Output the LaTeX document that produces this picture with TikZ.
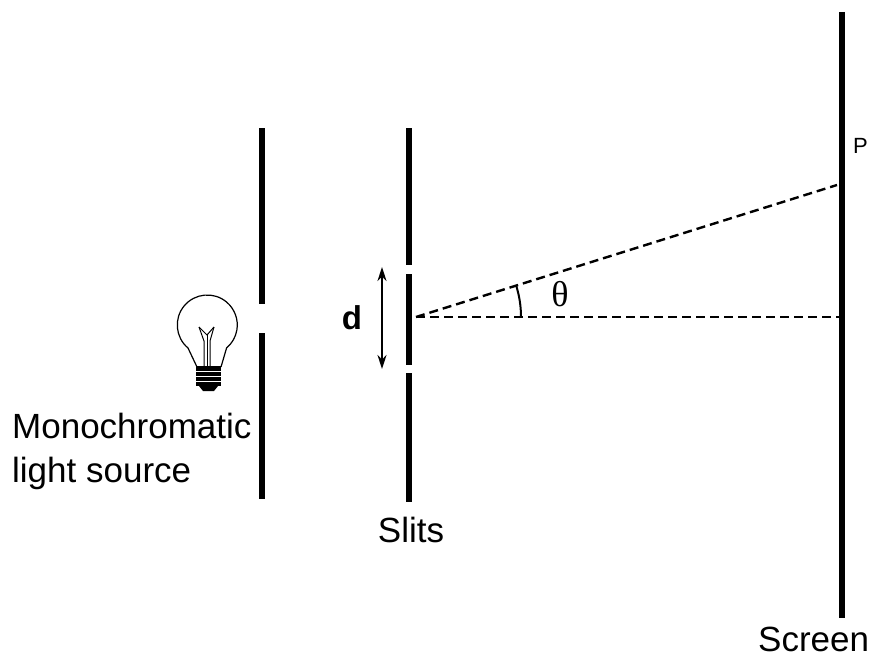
\documentclass[tikz,border=0pt]{standalone}
\usepackage{fontspec}
\setmainfont{Liberation Sans}
\newfontfamily\greekfont{Liberation Serif}
\usetikzlibrary{arrows.meta}

\begin{document}
\begin{tikzpicture}[x=1pt,y=-1pt,
	barrier/.style={line width=6pt},
	ray/.style={dash pattern=on 9pt off 5pt,line width=2.4pt},
	lbl/.style={inner sep=0pt,font=\fontsize{35}{44}\selectfont}]
	\useasboundingbox (0,0) rectangle (869,661);
	% barrier in front of the bulb
	\draw[barrier] (262,128) -- (262,304);
	\draw[barrier] (262,333) -- (262,499);
	% slits
	\draw[barrier] (409,128) -- (409,265);
	\draw[barrier] (409,274) -- (409,365);
	\draw[barrier] (409,373) -- (409,502);
	% screen
	\draw[line width=6.5pt] (842,12) -- (842,618);
	% bulb
	\draw[line width=1.2pt] (197,367) -- (188,348) arc[start angle=130,end angle=410,radius=30] -- (221,367);
	\fill (196,366) rectangle (221,386);
	\fill (199,386) -- (218,386) -- (214,391) -- (203,391) -- cycle;
	\foreach \y in {371,376,381}
		\draw[white,line width=0.7pt] (196,\y) -- (221,\y);
	\draw[line width=1pt] (199,327) -- (204,341) -- (204,366);
	\draw[line width=1pt] (214,327) -- (210,341) -- (210,366);
	\draw[line width=1pt] (199,327) -- (207,335) -- (214,327);
	\draw[line width=0.8pt] (207,335) -- (207,366);
	% rays
	\coordinate (src) at (416,317);
	\coordinate (P) at (837,185);
	\coordinate (O) at (839,317);
	\draw[ray] (src) -- (P);
	\draw[ray] (src) -- (O);
	\draw[line width=2pt] (src) ++(0:105) arc[start angle=0,end angle=-17.4,radius=105];
	\node[font=\greekfont\fontsize{36}{36}\selectfont] (theta) at (560,294) {θ};
	% slit spacing
	\coordinate (dtop) at (382,267);
	\coordinate (dbot) at (382,369);
	\draw[{Stealth[length=14pt,width=9pt]}-{Stealth[length=14pt,width=9pt]},line width=2pt] (dtop) -- (dbot);
	\node[font=\bfseries\fontsize{33}{33}\selectfont] (d) at (352,318) {d};
	% labels
	\node[lbl,anchor=base west,align=left] (srclbl) at (12,482) {Monochromatic\\light source};
	\node[lbl,anchor=base] (slits) at (411,542) {Slits};
	\node[lbl,anchor=base west] (screen) at (758,651) {Screen};
	\node[font=\fontsize{22}{22}\selectfont,inner sep=0pt,anchor=base west] (Plbl) at (853,153) {P};
\end{tikzpicture}
\end{document}
